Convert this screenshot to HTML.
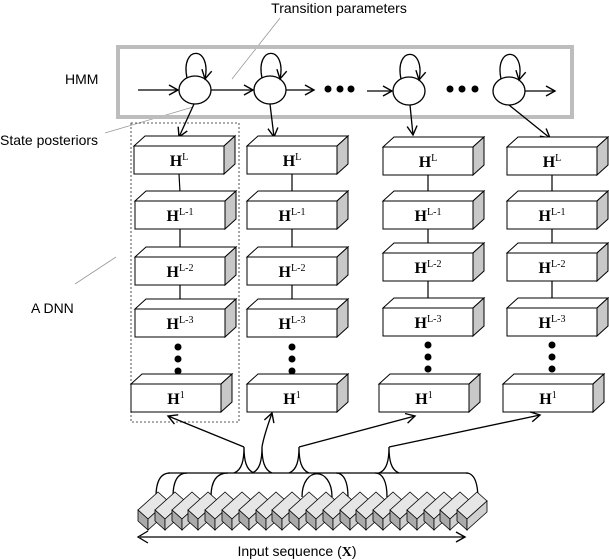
<!DOCTYPE html>
<html><head><meta charset="utf-8"><style>
html,body{margin:0;padding:0;background:#fff}
svg{display:block}
.l{font-family:"Liberation Sans",sans-serif;font-size:14px;fill:#000}
.h{font-family:"Liberation Serif",serif;font-weight:bold;font-size:16px}
.s{font-family:"Liberation Serif",serif;font-size:10px;font-weight:normal}
</style></head><body>
<svg width="609" height="560" viewBox="0 0 609 560" xmlns="http://www.w3.org/2000/svg">
<defs>
<marker id="a" markerWidth="12" markerHeight="12" refX="10" refY="6" orient="auto" markerUnits="userSpaceOnUse">
<path d="M1,1 L10,6 L1,11" fill="none" stroke="#000" stroke-width="1.4"/></marker>
<g id="bx">
<polygon points="0,0 11,-10 101,-10 90,0" fill="#fff" stroke="#000" stroke-width="1"/>
<polygon points="90,0 101,-10 101,18 90,28" fill="#c8c8c8" stroke="#000" stroke-width="1"/>
<rect x="0" y="0" width="90" height="28" fill="#fff" stroke="#000" stroke-width="1"/>
</g>
<g id="sl">
<polygon points="0,0 20,-18 30,-9 10,9" fill="#e6e6e6" stroke="#000" stroke-width="0.8"/>
<polygon points="0,0 10,9 10,20 0,11" fill="#aaa" stroke="#000" stroke-width="0.8"/>
<polygon points="10,9 30,-9 30,2 10,20" fill="#d0d0d0" stroke="#000" stroke-width="0.8"/>
</g>
</defs>

<text class="l" x="339" y="13" text-anchor="middle" font-size="13">Transition parameters</text>
<line x1="280" y1="18" x2="232" y2="79" stroke="#999" stroke-width="0.8"/>
<text class="l" x="65" y="84">HMM</text>
<text class="l" x="0" y="145">State posteriors</text>
<line x1="105" y1="133" x2="193" y2="107" stroke="#999" stroke-width="0.8"/>
<text class="l" x="31" y="313">A DNN</text>
<line x1="75" y1="284" x2="116" y2="257" stroke="#999" stroke-width="0.8"/>

<rect x="118" y="47" width="454" height="70" fill="none" stroke="#bdbdbd" stroke-width="4"/>
<g fill="none" stroke="#000" stroke-width="1.3">
<ellipse cx="195" cy="90" rx="16" ry="14" fill="#fff"/>
<ellipse cx="270" cy="90" rx="16" ry="14" fill="#fff"/>
<ellipse cx="409" cy="91" rx="16" ry="14" fill="#fff"/>
<ellipse cx="509" cy="91" rx="16" ry="14" fill="#fff"/>
<path d="M187,78 C180,45 212,45 205,79" marker-end="url(#a)"/>
<path d="M262,78 C255,45 287,45 280,79" marker-end="url(#a)"/>
<path d="M401,79 C394,46 426,46 419,80" marker-end="url(#a)"/>
<path d="M501,79 C494,46 526,46 519,80" marker-end="url(#a)"/>
<line x1="138" y1="90" x2="178" y2="90" marker-end="url(#a)"/>
<line x1="211" y1="90" x2="253" y2="90" marker-end="url(#a)"/>
<line x1="286" y1="90" x2="314" y2="90" marker-end="url(#a)"/>
<line x1="367" y1="91" x2="392" y2="91" marker-end="url(#a)"/>
<line x1="525" y1="91" x2="555" y2="91" marker-end="url(#a)"/>
<line x1="194" y1="104" x2="179" y2="137" marker-end="url(#a)"/>
<line x1="270" y1="104" x2="274" y2="137" marker-end="url(#a)"/>
<line x1="410" y1="105" x2="413" y2="135" marker-end="url(#a)"/>
<line x1="509" y1="105" x2="550" y2="138" marker-end="url(#a)"/>
</g>
<g fill="#000">
<circle cx="328" cy="89" r="3.5"/><circle cx="340" cy="89" r="3.5"/><circle cx="351" cy="89" r="3.5"/>
<circle cx="450" cy="89" r="3.5"/><circle cx="462" cy="89" r="3.5"/><circle cx="475" cy="89" r="3.5"/>
</g>

<rect x="131" y="123" width="108" height="299" fill="none" stroke="#222" stroke-width="0.8" stroke-dasharray="2,2"/>

<g stroke="#000" stroke-width="1.2">
<line x1="179" y1="174" x2="180" y2="192"/><line x1="180" y1="229" x2="180" y2="248"/><line x1="180" y1="285" x2="180" y2="300"/>
<line x1="292" y1="174" x2="292" y2="192"/><line x1="292" y1="229" x2="292" y2="248"/><line x1="292" y1="285" x2="292" y2="300"/>
<line x1="428" y1="175" x2="428" y2="192"/><line x1="428" y1="229" x2="428" y2="244"/><line x1="428" y1="281" x2="428" y2="299"/>
<line x1="552" y1="175" x2="552" y2="192"/><line x1="552" y1="229" x2="552" y2="244"/><line x1="552" y1="281" x2="552" y2="299"/>
</g>
<g fill="#000">
<circle cx="178" cy="347" r="3.5"/><circle cx="178" cy="359" r="3.5"/><circle cx="178" cy="371" r="3.5"/>
<circle cx="292" cy="347" r="3.5"/><circle cx="292" cy="359" r="3.5"/><circle cx="292" cy="371" r="3.5"/>
<circle cx="428" cy="345" r="3.5"/><circle cx="428" cy="357" r="3.5"/><circle cx="428" cy="369" r="3.5"/>
<circle cx="552" cy="345" r="3.5"/><circle cx="552" cy="357" r="3.5"/><circle cx="552" cy="369" r="3.5"/>
</g>

<use href="#bx" x="134" y="146"/><use href="#bx" x="135" y="201"/><use href="#bx" x="135" y="257"/><use href="#bx" x="135" y="309"/><use href="#bx" x="131" y="384"/>
<use href="#bx" x="247" y="146"/><use href="#bx" x="247" y="201"/><use href="#bx" x="247" y="257"/><use href="#bx" x="247" y="309"/><use href="#bx" x="247" y="384"/>
<use href="#bx" x="383" y="147"/><use href="#bx" x="383" y="201"/><use href="#bx" x="383" y="253"/><use href="#bx" x="383" y="308"/><use href="#bx" x="379" y="384"/>
<use href="#bx" x="507" y="147"/><use href="#bx" x="507" y="201"/><use href="#bx" x="507" y="253"/><use href="#bx" x="507" y="308"/><use href="#bx" x="503" y="384"/>

<g class="h" text-anchor="middle">
<text x="179" y="166">H<tspan class="s" dy="-6">L</tspan></text>
<text x="180" y="221">H<tspan class="s" dy="-6">L-1</tspan></text>
<text x="180" y="277">H<tspan class="s" dy="-6">L-2</tspan></text>
<text x="180" y="329">H<tspan class="s" dy="-6">L-3</tspan></text>
<text x="176" y="404">H<tspan class="s" dy="-6">1</tspan></text>
<text x="292" y="166">H<tspan class="s" dy="-6">L</tspan></text>
<text x="292" y="221">H<tspan class="s" dy="-6">L-1</tspan></text>
<text x="292" y="277">H<tspan class="s" dy="-6">L-2</tspan></text>
<text x="292" y="329">H<tspan class="s" dy="-6">L-3</tspan></text>
<text x="292" y="404">H<tspan class="s" dy="-6">1</tspan></text>
<text x="428" y="167">H<tspan class="s" dy="-6">L</tspan></text>
<text x="428" y="221">H<tspan class="s" dy="-6">L-1</tspan></text>
<text x="428" y="273">H<tspan class="s" dy="-6">L-2</tspan></text>
<text x="428" y="328">H<tspan class="s" dy="-6">L-3</tspan></text>
<text x="424" y="404">H<tspan class="s" dy="-6">1</tspan></text>
<text x="552" y="167">H<tspan class="s" dy="-6">L</tspan></text>
<text x="552" y="221">H<tspan class="s" dy="-6">L-1</tspan></text>
<text x="552" y="273">H<tspan class="s" dy="-6">L-2</tspan></text>
<text x="552" y="328">H<tspan class="s" dy="-6">L-3</tspan></text>
<text x="548" y="404">H<tspan class="s" dy="-6">1</tspan></text>
</g>

<g fill="none" stroke="#000" stroke-width="1.3">
<polyline points="244,447 168,416" marker-end="url(#a)"/>
<path d="M262,447 C264,435 268,425 272,413" marker-end="url(#a)"/>
<polyline points="299,447 415,416" marker-end="url(#a)"/>
<polyline points="389,447 540,415" marker-end="url(#a)"/>
<line x1="168" y1="473" x2="468" y2="473"/>
<path d="M234,473 C242,470 244,460 244,447 C244,460 246,470 254,473"/>
<path d="M252,473 C260,470 262,460 262,447 C262,460 264,470 272,473"/>
<path d="M289,473 C297,470 299,460 299,447 C299,460 301,470 309,473"/>
<path d="M379,473 C387,470 389,460 389,447 C389,460 391,470 399,473"/>
<path d="M156,497 C156,482 160,473 170,473"/>
<path d="M173,497 C173,482 177,473 187,473"/>
<path d="M211,497 C211,482 216,473 228,473"/>
<path d="M302,497 C302,466 332,466 332,497"/>
<path d="M336,473 C344,473 348,482 348,497"/>
<path d="M375,473 C383,473 387,482 387,497"/>
<path d="M466,473 C474,473 478,482 478,500"/>
</g>

<g>
<use href="#sl" x="138" y="510"/><use href="#sl" x="155" y="510"/><use href="#sl" x="172" y="510"/><use href="#sl" x="188" y="510"/>
<use href="#sl" x="205" y="510"/><use href="#sl" x="222" y="510"/><use href="#sl" x="239" y="510"/><use href="#sl" x="256" y="510"/>
<use href="#sl" x="272" y="510"/><use href="#sl" x="289" y="510"/><use href="#sl" x="306" y="510"/><use href="#sl" x="323" y="510"/>
<use href="#sl" x="340" y="510"/><use href="#sl" x="356" y="510"/><use href="#sl" x="373" y="510"/><use href="#sl" x="390" y="510"/>
<use href="#sl" x="407" y="510"/><use href="#sl" x="424" y="510"/><use href="#sl" x="440" y="510"/><use href="#sl" x="457" y="510"/>
</g>

<g fill="none" stroke="#000" stroke-width="1.3">
<line x1="140" y1="537" x2="465" y2="537" marker-end="url(#a)"/>
<path d="M148,531 L138,537 L148,543"/>
</g>
<text class="l" x="297" y="556" text-anchor="middle">Input sequence (<tspan font-family="Liberation Serif" font-weight="bold">X</tspan>)</text>
</svg>
</body></html>
